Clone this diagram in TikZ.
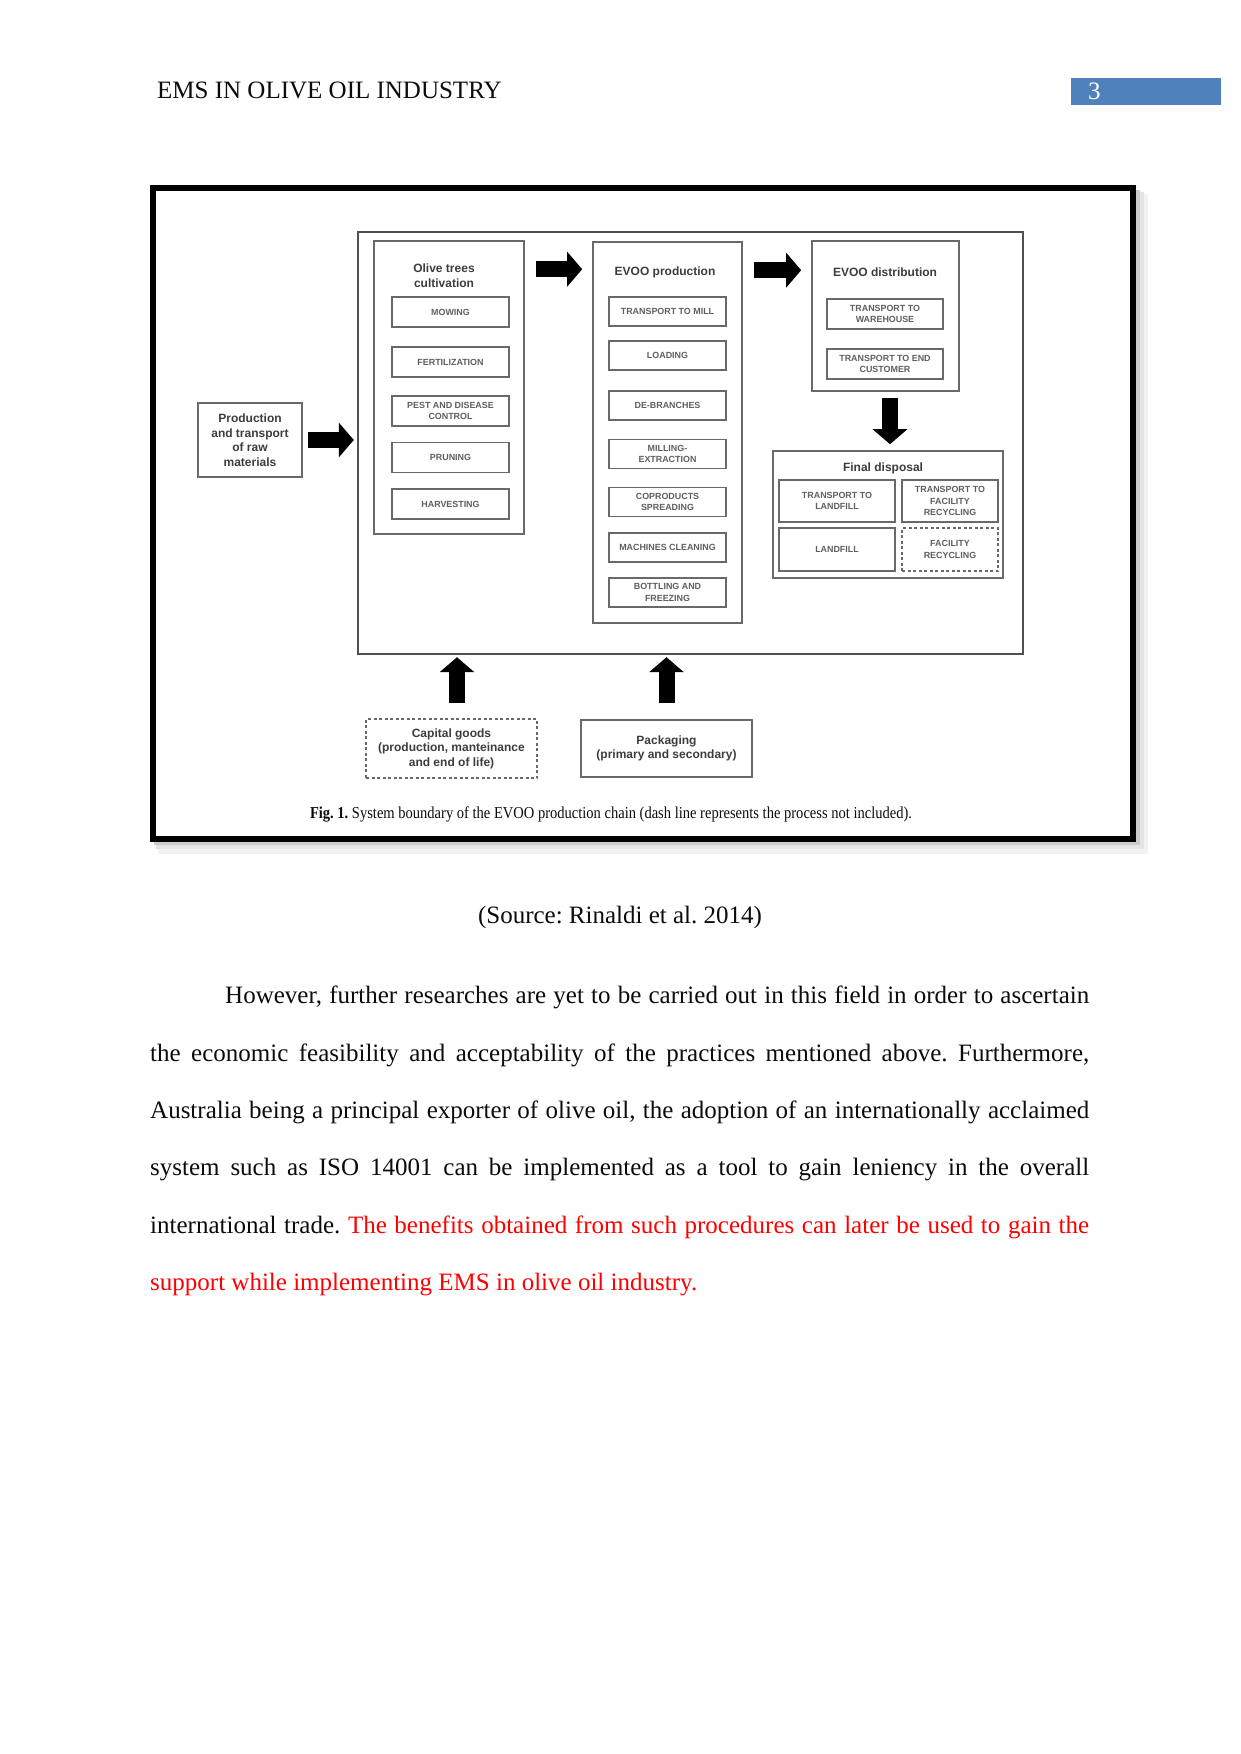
\documentclass[tikz,border=0pt]{standalone}
\usepackage{fontspec}
\setmainfont{Liberation Serif}
\newfontfamily\diagfont{Liberation Sans}
\newfontfamily\capfont[FakeStretch=0.87]{Liberation Serif}
\usetikzlibrary{arrows.meta,positioning}
\definecolor{ink}{RGB}{12,12,12}
\definecolor{frameline}{RGB}{80,80,80}
\definecolor{boxline}{RGB}{105,105,105}
\definecolor{labelgray}{RGB}{72,72,72}
\definecolor{steptext}{RGB}{95,95,95}
\definecolor{pageblue}{RGB}{79,129,189}
\definecolor{alertred}{RGB}{255,0,0}

\tikzset{
  stagebox/.style={draw=boxline, line width=1.6pt, inner sep=0pt},
  stepbox/.style={draw=boxline, line width=1.6pt, inner sep=1pt,
    align=center, text=steptext,
    font=\diagfont\bfseries\fontsize{8.9}{11.2}\selectfont},
  stagetitle/.style={align=center, text=labelgray!85!black,
    font=\diagfont\bfseries\fontsize{12}{14.5}\selectfont},
  blockarrow/.style={draw=black, line width=16pt,
    -{Triangle[width=34pt,length=15pt]}},
  notincluded/.style={dash pattern=on 3pt off 2.5pt},
  pagetext/.style={inner sep=0pt, text=ink, font=\fontsize{25}{30}\selectfont},
}

\begin{document}
\frenchspacing
\begin{tikzpicture}[x=1pt,y=-1pt]
  \useasboundingbox (0,0) rectangle (1241,1754);
  \fill[white] (0,0) rectangle (1241,1754);

  % running head
  \node[pagetext, anchor=base west] (runhead) at (157,98.5)
    {EMS IN OLIVE OIL INDUSTRY};
  \node[pagetext, anchor=west, fill=pageblue, text=white,
    minimum height=27pt, text width=116pt, inner xsep=17pt,
    align=left] (pagenum) at (1071,91) {3};

  % figure frame and its shadow
  \fill[black!5] (158,194) rectangle (1148,854);
  \fill[black!11] (156,192) rectangle (1144,849);
  \fill[black!20] (154,190) rectangle (1140,845);
  \draw[line width=6pt, fill=white] (153,188) rectangle (1133,839);

  % system boundary
  \node[stagebox, draw=frameline, line width=2.4pt,
    minimum width=665pt, minimum height=422pt] (boundary) at (690.5,443) {};

  % raw materials
  \node[stagebox, stagetitle, minimum width=104pt, minimum height=74pt]
    (raw) at (250,440) {Production\\and transport\\of raw\\materials};

  % olive trees cultivation
  \node[stagebox, minimum width=150pt, minimum height=293pt] (cult) at (449,387.5) {};
  \node[stagetitle] (cultT) at (444,275.5) {Olive trees\\cultivation};
  \foreach \y/\lbl [count=\i] in {312/MOWING, 362/FERTILIZATION,
      411/{PEST AND DISEASE\\CONTROL}, 457.5/PRUNING, 504/HARVESTING}
    \node[stepbox, minimum width=117pt, minimum height=30pt] (cult\i) at (450.5,\y) {\lbl};

  % EVOO production
  \node[stagebox, minimum width=149pt, minimum height=381pt] (prod) at (667.5,432.5) {};
  \node[stagetitle] (prodT) at (665,272) {EVOO production};
  \foreach \y/\lbl [count=\i] in {311.5/TRANSPORT TO MILL, 355.5/LOADING,
      405.5/DE-BRANCHES, 454/{MILLING-\\EXTRACTION},
      502/{COPRODUCTS\\SPREADING}, 547.5/MACHINES CLEANING,
      592.5/{BOTTLING AND\\FREEZING}}
    \node[stepbox, minimum width=117pt, minimum height=29pt] (prod\i) at (667.5,\y) {\lbl};

  % EVOO distribution
  \node[stagebox, minimum width=147pt, minimum height=150pt] (dist) at (885.5,316) {};
  \node[stagetitle] (distT) at (885,272) {EVOO distribution};
  \node[stepbox, minimum width=116pt, minimum height=30pt] (dist1) at (885,314)
    {TRANSPORT TO\\WAREHOUSE};
  \node[stepbox, minimum width=116pt, minimum height=30pt] (dist2) at (885,364)
    {TRANSPORT TO END\\CUSTOMER};

  % final disposal
  \node[stagebox, minimum width=230pt, minimum height=127pt] (disp) at (888,514.5) {};
  \node[stagetitle] (dispT) at (883,468) {Final disposal};
  \node[stepbox, minimum width=116pt, minimum height=42pt] (disp1) at (837,501)
    {TRANSPORT TO\\LANDFILL};
  \node[stepbox, minimum width=96pt, minimum height=42pt] (disp2) at (950,501)
    {TRANSPORT TO\\FACILITY\\RECYCLING};
  \node[stepbox, minimum width=116pt, minimum height=43pt] (disp3) at (837,549.5)
    {LANDFILL};
  \node[stepbox, notincluded, minimum width=96pt, minimum height=43pt] (disp4) at (950,549.5)
    {FACILITY\\RECYCLING};

  % inputs from below
  \node[stagebox, stagetitle, notincluded, minimum width=171pt, minimum height=59pt]
    (capital) at (451.5,748.5) {Capital goods\\(production, manteinance\\and end of life)};
  \node[stagebox, stagetitle, minimum width=171pt, minimum height=57pt]
    (pack) at (666.5,748.5) {Packaging\\(primary and secondary)};

  % block arrows
  \coordinate (cultout) at ([yshift=-29pt]cult.north east);
  \coordinate (prodout) at ([yshift=-29pt]prod.north east);
  \coordinate (distout) at ([xshift=4.5pt]dist.south);
  \coordinate (capin) at ([xshift=5.5pt]capital.north);
  \draw[blockarrow, shorten <=5pt, shorten >=3pt] (raw.east) -- (raw.east -| boundary.west);
  \draw[blockarrow, shorten <=11pt, shorten >=10pt] (cultout) -- (cultout -| prod.west);
  \draw[blockarrow, shorten <=11pt, shorten >=10pt] (prodout) -- (prodout -| dist.west);
  \draw[blockarrow, shorten <=6pt, shorten >=6pt] (distout) -- (distout |- disp.north);
  \draw[blockarrow, shorten <=15pt, shorten >=2pt] (capin) -- (capin |- boundary.south);
  \draw[blockarrow, shorten <=16pt, shorten >=2pt] (pack.north) -- (pack.north |- boundary.south);

  % caption inside the frame
  \node[anchor=base, inner sep=0pt, text=ink,
    font=\capfont\fontsize{16.7}{20}\selectfont] (figcap) at (611,818)
    {\textbf{Fig. 1.} System boundary of the EVOO production chain (dash line represents the process not included).};

  % text below the figure
  \node[pagetext, anchor=base] (source) at (620,923.6) {(Source: Rinaldi et al. 2014)};
  \node[pagetext, anchor=north west, text width=939pt, align=justify,
    font=\fontsize{25}{57.3}\selectfont] (para) at (150,986)
    {\hspace*{75pt}However, further researches are yet to be carried out in this field in order to ascertain\linebreak
     the economic feasibility and acceptability of the practices mentioned above. Furthermore,\linebreak
     Australia being a principal exporter of olive oil, the adoption of an internationally acclaimed\linebreak
     system such as ISO 14001 can be implemented as a tool to gain leniency in the overall\linebreak
     international trade. \textcolor{alertred}{The benefits obtained from such procedures can later be used to gain the\linebreak
     support while implementing EMS in olive oil industry.}};
\end{tikzpicture}
\end{document}
